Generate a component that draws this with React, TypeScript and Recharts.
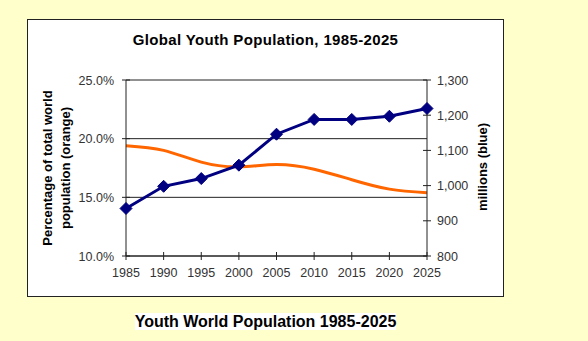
import React from "react";
import { LineChart, Line, XAxis, YAxis, CartesianGrid } from "recharts";

const years = ["1985", "1990", "1995", "2000", "2005", "2010", "2015", "2020", "2025"];
// orange: share of world population (%), left axis
const youthShare = [19.4, 19.0, 18.0, 17.6, 17.8, 17.4, 16.5, 15.7, 15.4];
// blue: youth population in millions, right axis
const youthMillions = [935, 998, 1020, 1058, 1146, 1188, 1188, 1197, 1219];
const leftTicks = [10, 15, 20, 25];
const rightTicks = [800, 900, 1000, 1100, 1200, 1300];

const data = years.map((y, i) => ({
  year: y,
  share: youthShare[i],
  millions: youthMillions[i],
}));

const FONT = "'Liberation Sans', Arial, sans-serif";
const AXIS = "#222";
const TICK_FS = 12.5;

function Diamond(props: any) {
  const { cx, cy } = props;
  if (cx == null || cy == null) return null;
  const r = 6;
  return (
    <path
      d={`M${cx},${cy - r}L${cx + r},${cy}L${cx},${cy + r}L${cx - r},${cy}Z`}
      fill="#000080"
      stroke="#000080"
    />
  );
}

// ticks that cross the axis line, like the old Excel charts
function LeftTick({ x, y, payload }: any) {
  return (
    <g>
      <line x1={x + 8} x2={x + 16} y1={y} y2={y} stroke={AXIS} />
      <text x={x} y={y} dy="0.36em" textAnchor="end" fontSize={TICK_FS} fill="#333" fontFamily={FONT}>
        {payload.value.toFixed(1) + "%"}
      </text>
    </g>
  );
}

function RightTick({ x, y, payload }: any) {
  return (
    <g>
      <line x1={x - 14} x2={x - 6} y1={y} y2={y} stroke={AXIS} />
      <text x={x} y={y} dy="0.36em" textAnchor="start" fontSize={TICK_FS} fill="#333" fontFamily={FONT}>
        {payload.value.toLocaleString("en-US")}
      </text>
    </g>
  );
}

function BottomTick({ x, y, payload }: any) {
  return (
    <g>
      <line x1={x} x2={x} y1={y - 16} y2={y - 8} stroke={AXIS} />
      <text x={x} y={y} dy="0.75em" textAnchor="middle" fontSize={TICK_FS} fill="#333" fontFamily={FONT}>
        {payload.value}
      </text>
    </g>
  );
}

export default function App() {
  return (
    <div
      style={{
        position: "absolute",
        left: 0,
        top: 0,
        width: 588,
        height: 341,
        background: "#FFFFCC",
        fontFamily: FONT,
        overflow: "hidden",
      }}
    >
      <div
        style={{
          position: "absolute",
          left: 27,
          top: 19,
          width: 475,
          height: 276,
          background: "#fff",
          border: "1px solid #222",
        }}
      />
      <div
        style={{
          position: "absolute",
          left: 27,
          width: 477,
          top: 31,
          textAlign: "center",
          fontWeight: "bold",
          fontSize: 15,
          letterSpacing: 0.35,
          color: "#000",
        }}
      >
        Global Youth Population, 1985-2025
      </div>
      <div
        style={{
          position: "absolute",
          left: 57 - 100,
          top: 168 - 18,
          width: 200,
          height: 36,
          transform: "rotate(-90deg)",
          textAlign: "center",
          fontWeight: "bold",
          fontSize: 13,
          lineHeight: "18px",
        }}
      >
        Percentage of total world
        <br />
        population (orange)
      </div>
      <div
        style={{
          position: "absolute",
          left: 483 - 60,
          top: 167 - 8,
          width: 120,
          height: 16,
          transform: "rotate(-90deg)",
          textAlign: "center",
          fontWeight: "bold",
          fontSize: 13,
          lineHeight: "16px",
        }}
      >
        millions (blue)
      </div>
      <div
        style={{
          position: "absolute",
          left: 0,
          width: 531,
          top: 313,
          textAlign: "center",
          fontWeight: "bold",
          fontSize: 16,
        }}
      >
        <span style={{ background: "#fff" }}>Youth World Population 1985-2025</span>
      </div>

      <div style={{ position: "absolute", left: 0, top: 0 }}>
        <LineChart
          width={588}
          height={341}
          data={data}
          margin={{ top: 80, right: 101, bottom: 55, left: 66 }}
        >
          <CartesianGrid yAxisId="left" vertical={false} stroke={AXIS} strokeWidth={1} />
          <XAxis
            dataKey="year"
            axisLine={{ stroke: AXIS }}
            tickLine={false}
            tickSize={4}
            tickMargin={8}
            height={30}
            tick={<BottomTick />}
            interval={0}
          />
          <YAxis
            yAxisId="left"
            orientation="left"
            domain={[10, 25]}
            ticks={leftTicks}
            width={60}
            axisLine={{ stroke: AXIS }}
            tickLine={false}
            tickSize={4}
            tickMargin={8}
            tick={<LeftTick />}
          />
          <YAxis
            yAxisId="right"
            orientation="right"
            domain={[800, 1300]}
            ticks={rightTicks}
            width={60}
            axisLine={{ stroke: AXIS }}
            tickLine={false}
            tickSize={4}
            tickMargin={6}
            tick={<RightTick />}
          />
          <Line
            yAxisId="left"
            type="natural"
            dataKey="share"
            stroke="#FF6600"
            strokeWidth={3}
            dot={false}
            isAnimationActive={false}
          />
          <Line
            yAxisId="right"
            type="linear"
            dataKey="millions"
            stroke="#000080"
            strokeWidth={3}
            dot={<Diamond />}
            isAnimationActive={false}
          />
        </LineChart>
      </div>
    </div>
  );
}
